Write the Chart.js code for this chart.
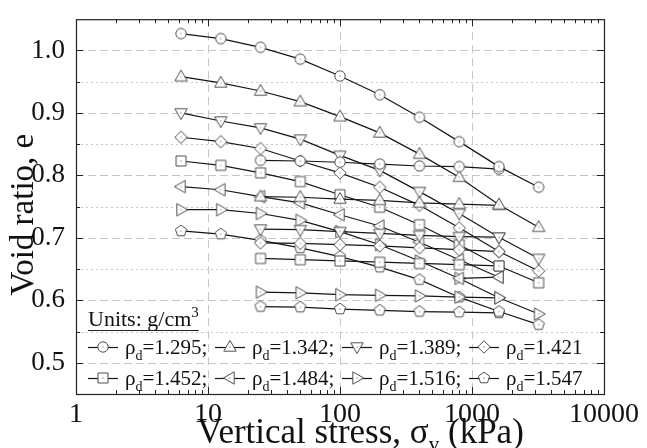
<!DOCTYPE html>
<html><head><meta charset="utf-8">
<script src="https://cdn.jsdelivr.net/npm/chart.js@4/dist/chart.umd.min.js"></script>
<style>html,body{margin:0;padding:0;background:#fff}canvas{display:block}</style>
</head><body>
<canvas id="c" width="647" height="448"></canvas>
<script>
// ---- data ----
const stressLoad = [6.25, 12.5, 25, 50, 100, 200, 400, 800, 1600, 3200];
const stressUnload = [1600, 800, 400, 200, 100, 50, 25];
const densities = ['1.295', '1.342', '1.389', '1.421', '1.452', '1.484', '1.516', '1.547'];

const load1295 = [1.027, 1.019, 1.005, 0.986, 0.959, 0.929, 0.893, 0.854, 0.814, 0.781];
const load1342 = [0.958, 0.948, 0.935, 0.918, 0.894, 0.868, 0.834, 0.797, 0.753, 0.717];
const load1389 = [0.900, 0.887, 0.876, 0.858, 0.832, 0.808, 0.774, 0.739, 0.701, 0.667];
const load1421 = [0.861, 0.854, 0.843, 0.823, 0.804, 0.781, 0.752, 0.716, 0.678, 0.647];
const load1452 = [0.823, 0.816, 0.804, 0.790, 0.769, 0.749, 0.721, 0.689, 0.655, 0.628];
const load1484 = [0.782, 0.777, 0.766, 0.756, 0.737, 0.719, 0.693, 0.665, 0.637];
const load1516 = [0.745, 0.745, 0.739, 0.728, 0.710, 0.689, 0.663, 0.635, 0.604, 0.578];
const load1547 = [0.711, 0.706, 0.696, 0.684, 0.670, 0.653, 0.633, 0.605, 0.582, 0.561];

const unload1295 = [0.810, 0.814, 0.815, 0.818, 0.821, 0.823, 0.824];
const unload1342 = [0.752, 0.754, 0.756, 0.760, 0.762, 0.765, 0.766];
const unload1389 = [0.701, 0.702, 0.704, 0.707, 0.710, 0.713, 0.714];
const unload1421 = [0.678, 0.681, 0.684, 0.687, 0.689, 0.691, 0.692];
const unload1452 = [0.655, 0.657, 0.659, 0.661, 0.663, 0.665, 0.667];
const unload1484 = [0.637, 0.635];
const unload1516 = [0.604, 0.605, 0.607, 0.608, 0.609, 0.612, 0.613];
const unload1547 = [0.580, 0.581, 0.582, 0.584, 0.586, 0.589, 0.590];

const xTickLabels = [1, 10, 100, 1000, 10000];
const yTickLabels = [0.5, 0.6, 0.7, 0.8, 0.9, 1.0];
const yMinorTicks = [0.55, 0.65, 0.75, 0.85, 0.95];

const loads = [load1295, load1342, load1389, load1421, load1452, load1484, load1516, load1547];
const unloads = [unload1295, unload1342, unload1389, unload1421, unload1452, unload1484, unload1516, unload1547];

// ---- markers ----
const shapes = ['circle', 'up', 'down', 'diamond', 'square', 'left', 'right', 'pentagon'];
function markerPath(g, shape) {
  g.beginPath();
  if (shape === 'circle') { g.arc(0, 0, 5.2, 0, Math.PI * 2); }
  else if (shape === 'square') { g.rect(-5, -5, 10, 10); }
  else if (shape === 'diamond') { g.moveTo(0, -6.2); g.lineTo(6.2, 0); g.lineTo(0, 6.2); g.lineTo(-6.2, 0); g.closePath(); }
  else if (shape === 'pentagon') {
    for (let k = 0; k < 5; k++) { const a = -Math.PI / 2 + k * 2 * Math.PI / 5; const px = 5.9 * Math.cos(a), py = 5.9 * Math.sin(a); k ? g.lineTo(px, py) : g.moveTo(px, py); }
    g.closePath();
  } else {
    const rot = { up: 0, right: Math.PI / 2, down: Math.PI, left: -Math.PI / 2 }[shape];
    const pts = [[0, -6.6], [6.2, 4.2], [-6.2, 4.2]];
    pts.forEach((p, k) => { const px = p[0] * Math.cos(rot) - p[1] * Math.sin(rot); const py = p[0] * Math.sin(rot) + p[1] * Math.cos(rot); k ? g.lineTo(px, py) : g.moveTo(px, py); });
    g.closePath();
  }
}
function makeMarker(shape) {
  const cv = document.createElement('canvas'); cv.width = 18; cv.height = 18;
  const g = cv.getContext('2d'); g.translate(9, 9);
  markerPath(g, shape);
  g.fillStyle = '#fff'; g.fill();
  g.strokeStyle = '#505050'; g.lineWidth = 1; g.stroke();
  g.fillStyle = '#888'; g.fillRect(-0.6, -0.6, 1.2, 1.2);
  return cv;
}
const markers = shapes.map(makeMarker);

// ---- datasets ----
const datasets = [];
densities.forEach((d, i) => {
  const common = { pointStyle: markers[i], pointRadius: 6, borderColor: '#151515', borderWidth: 1.2, backgroundColor: '#fff', fill: false, tension: 0, showLine: true };
  datasets.push(Object.assign({ label: 'ρd=' + d, data: loads[i].map((e, j) => ({ x: stressLoad[j], y: e })) }, common));
  datasets.push(Object.assign({ label: '', data: unloads[i].map((e, j) => ({ x: stressUnload[j], y: e })) }, common));
});

const SERIF = '"Liberation Serif", "Times New Roman", serif';

const decor = {
  id: 'decor',
  beforeDatasetsDraw(chart) {
    const { ctx, chartArea: a, scales: { x, y } } = chart;
    ctx.save();
    ctx.lineWidth = 1;
    ctx.strokeStyle = '#c6c6c6';
    const hl = (v, dash) => { ctx.setLineDash(dash); const py = Math.round(y.getPixelForValue(v)) + 0.5; ctx.beginPath(); ctx.moveTo(a.left, py); ctx.lineTo(a.right, py); ctx.stroke(); };
    yTickLabels.forEach(v => hl(v, [8, 4]));
    yMinorTicks.forEach(v => hl(v, [2, 3]));
    ctx.setLineDash([8, 5]);
    [10, 100, 1000].forEach(v => { const px = Math.round(x.getPixelForValue(v)) + 0.5; ctx.beginPath(); ctx.moveTo(px, a.top); ctx.lineTo(px, a.bottom); ctx.stroke(); });
    ctx.restore();
  },
  afterDraw(chart) {
    const { ctx, chartArea: a, scales: { x, y } } = chart;
    ctx.save();
    ctx.strokeStyle = '#222'; ctx.lineWidth = 1.2; ctx.setLineDash([]);
    ctx.strokeRect(a.left + 0.5, a.top + 0.5, a.right - a.left, a.bottom - a.top);
    ctx.lineWidth = 1;
    const seg = (x1, y1, x2, y2) => { ctx.beginPath(); ctx.moveTo(x1, y1); ctx.lineTo(x2, y2); ctx.stroke(); };
    // x ticks
    for (let dec = 1; dec < 10000; dec *= 10) {
      for (let m = 1; m < 10; m++) {
        const v = dec * m; const px = Math.round(x.getPixelForValue(v)) + 0.5; const len = m === 1 ? 7 : 4;
        if (m !== 1 || v > 1) { seg(px, a.bottom, px, a.bottom - len); seg(px, a.top, px, a.top + len); }
      }
    }
    // y ticks
    yTickLabels.forEach(v => { const py = Math.round(y.getPixelForValue(v)) + 0.5; seg(a.left, py, a.left + 7, py); seg(a.right, py, a.right - 7, py); });
    yMinorTicks.forEach(v => { const py = Math.round(y.getPixelForValue(v)) + 0.5; seg(a.left, py, a.left + 4, py); seg(a.right, py, a.right - 4, py); });

    ctx.fillStyle = '#111';
    // y title
    ctx.save();
    ctx.translate(24, (a.top + a.bottom) / 2 + 8);
    ctx.rotate(-Math.PI / 2);
    ctx.font = '33px ' + SERIF; ctx.textAlign = 'center'; ctx.textBaseline = 'middle';
    ctx.fillText('Void ratio, e', 0, 0);
    ctx.restore();
    // x title
    ctx.textAlign = 'left'; ctx.textBaseline = 'alphabetic';
    let tx = a.left + 121; const ty = 443;
    ctx.font = '35px ' + SERIF;
    const t1 = 'Vertical stress, σ'; ctx.fillText(t1, tx, ty); tx += ctx.measureText(t1).width;
    ctx.font = '21px ' + SERIF; ctx.fillText('v', tx, ty + 8); tx += ctx.measureText('v').width;
    ctx.font = '35px ' + SERIF; ctx.fillText(' (kPa)', tx, ty);

    // legend
    const lx = a.left + 12;
    ctx.font = '22px ' + SERIF;
    let ux = lx; const uy = 326;
    const ut = 'Units: g/cm'; ctx.fillText(ut, ux, uy); let uw = ctx.measureText(ut).width;
    ctx.font = '15px ' + SERIF; ctx.fillText('3', ux + uw, uy - 9); uw += ctx.measureText('3').width;
    ctx.lineWidth = 1.2; seg(ux, uy + 4.5, ux + uw, uy + 4.5);
    densities.forEach((d, i) => {
      const row = Math.floor(i / 4), col = i % 4;
      const x0 = lx + col * 127, cy = 347 + row * 31;
      ctx.strokeStyle = '#151515';
      seg(x0, cy + 0.5, x0 + 30, cy + 0.5);
      ctx.drawImage(markers[i], x0 + 15 - 9, cy - 9);
      let px = x0 + 37;
      ctx.font = '21px ' + SERIF; ctx.fillText('ρ', px, cy + 7); px += ctx.measureText('ρ').width;
      ctx.font = '14px ' + SERIF; ctx.fillText('d', px, cy + 13); px += ctx.measureText('d').width;
      ctx.font = '21px ' + SERIF; ctx.fillText('=' + d + (i % 4 === 3 ? '' : ';'), px, cy + 7);
    });
    ctx.restore();
  }
};

new Chart(document.getElementById('c'), {
  type: 'line',
  data: { datasets },
  plugins: [decor],
  options: {
    responsive: false,
    animation: false,
    layout: { padding: { top: 12, right: 43, left: 0, bottom: 0 } },
    plugins: { legend: { display: false }, tooltip: { enabled: false } },
    elements: { point: { hoverRadius: 6 } },
    scales: {
      x: {
        type: 'logarithmic', min: 1, max: 10000,
        grid: { display: false }, border: { display: false },
        afterBuildTicks: s => { s.ticks = xTickLabels.map(v => ({ value: v, major: true })); },
        afterFit: s => { s.height = 54; },
        ticks: { autoSkip: false, maxRotation: 0, padding: -4, color: '#111', font: { family: SERIF, size: 28 }, callback: v => String(v) }
      },
      y: {
        type: 'linear', min: 0.45, max: 1.05,
        grid: { display: false }, border: { display: false },
        afterBuildTicks: s => { s.ticks = yTickLabels.map(v => ({ value: v })); },
        afterFit: s => { s.width = 76; },
        ticks: { padding: 3, color: '#111', font: { family: SERIF, size: 27 }, callback: v => Number(v).toFixed(1) }
      }
    }
  }
});
</script>
</body></html>
